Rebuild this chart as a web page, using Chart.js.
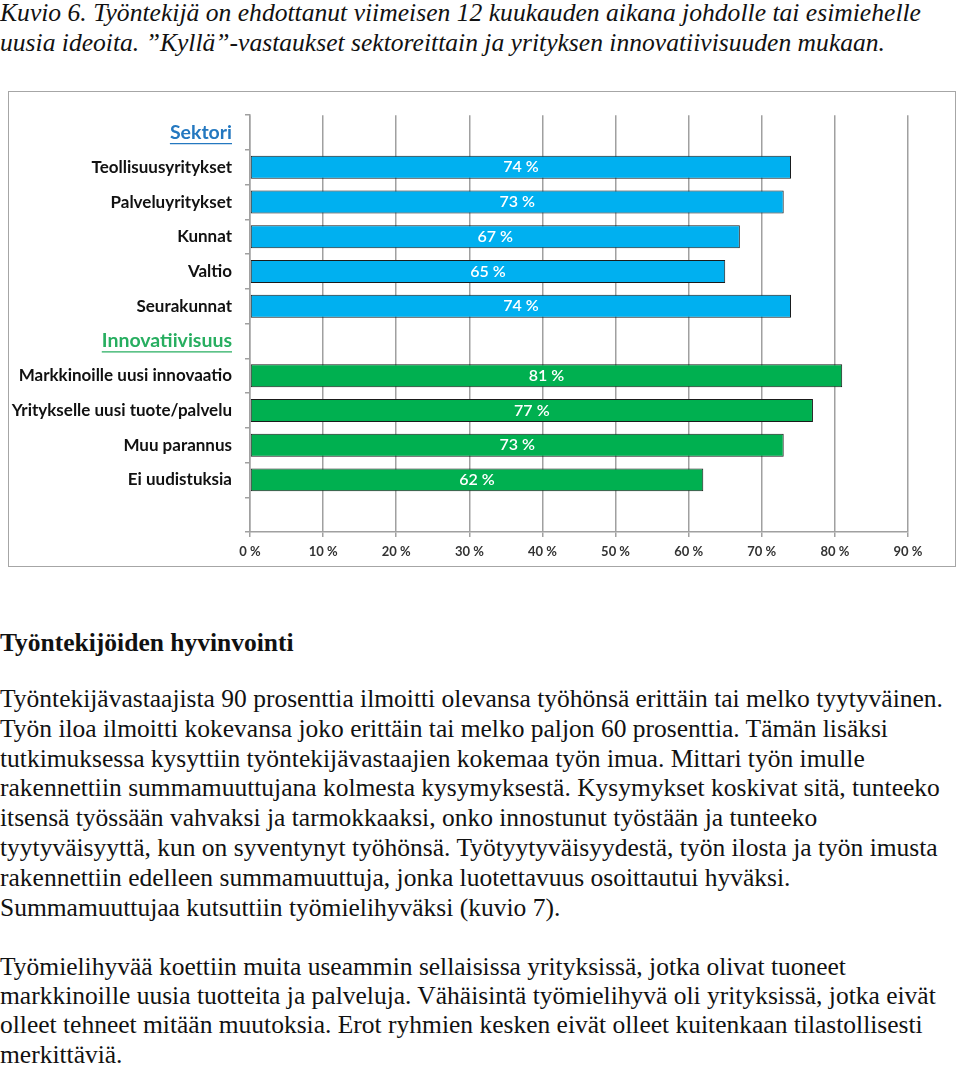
<!DOCTYPE html>
<html>
<head>
<meta charset="utf-8">
<script src="https://cdn.jsdelivr.net/npm/chart.js@4/dist/chart.umd.min.js"></script>
<style>
  body { margin: 0; background: #fff; width: 960px; height: 1066px; position: relative; overflow: hidden; }
  .cap { position: absolute; left: 0; font-family: "Liberation Serif", serif; font-style: italic; font-size: 26px;
         white-space: nowrap; transform-origin: 0 0; color: #111; line-height: 30px; }
  #box { position: absolute; left: 8px; top: 91px; width: 946px; height: 474px; border: 1.5px solid #a6a6a6; }
  .txt { position: absolute; left: 0; font-family: "Liberation Serif", serif; font-size: 25.5px; color: #111;
         white-space: nowrap; }
  h2 { position: absolute; left: 0; top: 628px; margin: 0; font-family: "Liberation Serif", serif; font-size: 25.5px;
       line-height: 30px; font-weight: bold; color: #111; }
</style>
</head>
<body>
<div class="cap" style="top:-2px" data-w="921">Kuvio 6. Työntekijä on ehdottanut viimeisen 12 kuukauden aikana johdolle tai esimiehelle</div>
<div class="cap" style="top:28px" data-w="885">uusia ideoita. ”Kyllä”-vastaukset sektoreittain ja yrityksen innovatiivisuuden mukaan.</div>

<div id="box"><canvas id="myChart"></canvas></div>

<h2>Työntekijöiden hyvinvointi</h2>
<div class="txt" style="top:684px; line-height:29.8px">
Työntekijävastaajista 90 prosenttia ilmoitti olevansa työhönsä erittäin tai melko tyytyväinen.<br>
Työn iloa ilmoitti kokevansa joko erittäin tai melko paljon 60 prosenttia. Tämän lisäksi<br>
tutkimuksessa kysyttiin työntekijävastaajien kokemaa työn imua. Mittari työn imulle<br>
rakennettiin summamuuttujana kolmesta kysymyksestä. Kysymykset koskivat sitä, tunteeko<br>
itsensä työssään vahvaksi ja tarmokkaaksi, onko innostunut työstään ja tunteeko<br>
tyytyväisyyttä, kun on syventynyt työhönsä. Työtyytyväisyydestä, työn ilosta ja työn imusta<br>
rakennettiin edelleen summamuuttuja, jonka luotettavuus osoittautui hyväksi.<br>
Summamuuttujaa kutsuttiin työmielihyväksi (kuvio 7).
</div>
<div class="txt" style="top:952px; line-height:29.2px">
Työmielihyvää koettiin muita useammin sellaisissa yrityksissä, jotka olivat tuoneet<br>
markkinoille uusia tuotteita ja palveluja. Vähäisintä työmielihyvä oli yrityksissä, jotka eivät<br>
olleet tehneet mitään muutoksia. Erot ryhmien kesken eivät olleet kuitenkaan tilastollisesti<br>
merkittäviä.
</div>

<script>
// fit the caption lines to the width they have in the original
document.querySelectorAll('.cap').forEach(el => {
  let w = el.getBoundingClientRect().width;
  el.style.transform = 'scaleX(' + (el.dataset.w / w) + ')';
});

let categories = ['Sektori', 'Teollisuusyritykset', 'Palveluyritykset', 'Kunnat', 'Valtio', 'Seurakunnat',
  'Innovatiivisuus', 'Markkinoille uusi innovaatio', 'Yritykselle uusi tuote/palvelu', 'Muu parannus',
  'Ei uudistuksia', ''];
let values = [null, 74, 73, 67, 65, 74, null, 81, 77, 73, 62, null];
let groups = ['', 'sek', 'sek', 'sek', 'sek', 'sek', '', 'inn', 'inn', 'inn', 'inn', ''];
let xTicks = [0, 10, 20, 30, 40, 50, 60, 70, 80, 90];

let headers = { 0: '#2478c0', 6: '#27ae60' };
let barColors = groups.map(g => g === 'inn' ? '#00b050' : '#00b0f0');

let fontFam = 'Lato, "Open Sans", sans-serif';

let valueLabels = {
  id: 'valueLabels',
  afterDatasetsDraw(chart) {
    let ctx = chart.ctx;
    let meta = chart.getDatasetMeta(0);
    ctx.save();
    ctx.fillStyle = '#fff';
    ctx.font = '600 16px ' + fontFam;
    ctx.textAlign = 'center';
    ctx.textBaseline = 'middle';
    meta.data.forEach((bar, i) => {
      if (values[i] == null) return;
      ctx.fillText(values[i] + ' %', (bar.base + bar.x) / 2, bar.y);
    });
    ctx.restore();
  }
};

// underline under the two group headings
let headerLines = {
  id: 'headerLines',
  afterDraw(chart) {
    let ctx = chart.ctx;
    let y = chart.scales.y;
    ctx.save();
    Object.keys(headers).forEach(k => {
      let i = +k;
      ctx.font = 'bold 19.5px ' + fontFam;
      let w = ctx.measureText(categories[i]).width;
      let py = y.getPixelForTick(i) + 11;
      let right = y.right - 18;
      ctx.strokeStyle = headers[k];
      ctx.lineWidth = 1.3;
      ctx.beginPath();
      ctx.moveTo(right - w, py);
      ctx.lineTo(right, py);
      ctx.stroke();
    });
    ctx.restore();
  }
};

new Chart('myChart', {
  type: 'bar',
  data: {
    labels: categories,
    datasets: [{
      data: values,
      backgroundColor: barColors,
      borderColor: '#1a1a1a',
      borderWidth: 1,
      borderSkipped: false,
      categoryPercentage: 1,
      barPercentage: 0.66
    }]
  },
  plugins: [valueLabels, headerLines],
  options: {
    indexAxis: 'y',
    responsive: true,
    maintainAspectRatio: false,
    animation: false,
    layout: { padding: { top: 22, right: 47, left: 0, bottom: 0 } },
    plugins: { legend: { display: false }, tooltip: { enabled: false } },
    scales: {
      x: {
        min: 0, max: 90,
        afterBuildTicks: s => { s.ticks = xTicks.map(v => ({ value: v })); },
        afterFit: s => { s.height = 34; },
        grid: { color: '#a0a0a0', lineWidth: 1.5, tickLength: 5 },
        border: { display: true, color: '#a0a0a0', width: 1.5 },
        ticks: {
          callback: v => v + ' %',
          color: '#333',
          font: { family: fontFam, size: 13, weight: 'bold' },
          padding: 7,
          maxRotation: 0
        }
      },
      y: {
        afterFit: s => { s.width = 241; },
        grid: { offset: true, drawOnChartArea: false, color: '#a0a0a0', lineWidth: 1.5, tickLength: 5 },
        border: { display: true, color: '#a0a0a0', width: 1.5 },
        ticks: {
          padding: 13,
          autoSkip: false,
          color: c => headers[c.index] || '#111',
          font: c => ({ family: fontFam, size: headers[c.index] ? 19.5 : 17, weight: 'bold' })
        }
      }
    }
  }
});
</script>
</body>
</html>
